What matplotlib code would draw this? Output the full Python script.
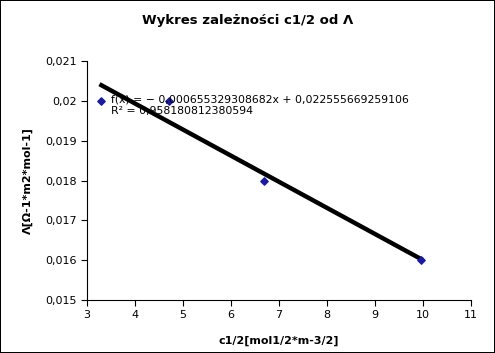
import numpy as np
import matplotlib
matplotlib.use("Agg")
import matplotlib.pyplot as plt
from matplotlib.ticker import FuncFormatter

# pomiary
c_sqrt = [3.3, 4.7, 6.68, 9.95]
lam = [0.0200, 0.0200, 0.0180, 0.0160]

# linia trendu
slope = -0.000655329308682
intercept = 0.022555669259106
r2 = 0.958180812380594

fig = plt.figure(figsize=(4.95, 3.53), dpi=100, edgecolor='black', linewidth=1.2)
ax = fig.add_axes([0.1758, 0.150, 0.7758, 0.677])

xs = np.array([min(c_sqrt), max(c_sqrt)])
ax.plot(xs, slope * xs + intercept, color='black', lw=3.2, zorder=2)
ax.scatter(c_sqrt, lam, marker='D', s=14, color='#1a1aa0', zorder=3)

ax.set_xlim(3, 11)
ax.set_ylim(0.015, 0.021)
ax.set_xticks(range(3, 12))
ax.set_yticks(np.arange(0.015, 0.0211, 0.001))
ax.yaxis.set_major_formatter(FuncFormatter(lambda v, p: ('%g' % round(v, 4)).replace('.', ',')))
for s in ['top', 'right']:
    ax.spines[s].set_visible(False)
ax.tick_params(direction='out', length=4, labelsize=8)

ax.text(3.5, 0.01990, 'f(x) = \u2212 0,000655329308682x + 0,022555669259106\nR\u00b2 = ' + str(r2).replace('.', ','),
        fontsize=7.8, va='center', linespacing=1.2)

ax.set_xlabel('c1/2[mol1/2*m-3/2]', fontsize=8, fontweight='bold', labelpad=11)
ax.set_ylabel('\u039b[\u03a9-1*m2*mol-1]', fontsize=8, fontweight='bold', labelpad=9)
fig.suptitle('Wykres zale\u017cno\u015bci c1/2 od \u039b', fontsize=9.5, fontweight='bold', y=0.96)

fig.savefig('out.png', dpi=100, edgecolor='black')
